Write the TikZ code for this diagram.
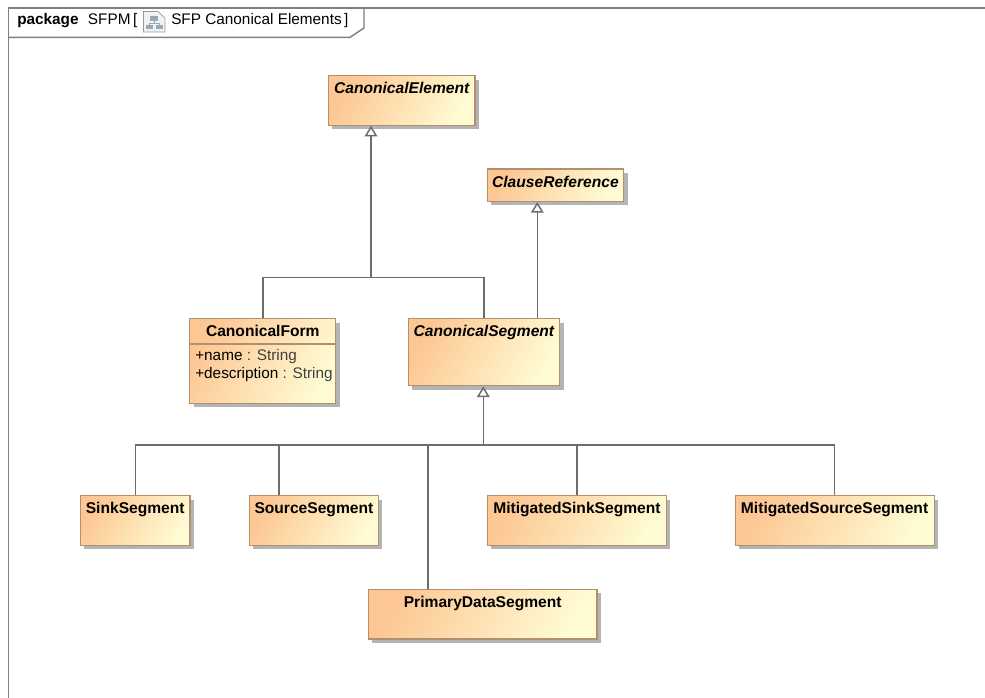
\documentclass[tikz,border=0pt]{standalone}
\usepackage{fontspec}
\setmainfont{Liberation Sans}
\usetikzlibrary{arrows.meta,shadows}

\definecolor{framegray}{HTML}{808080}
\definecolor{linkgray}{HTML}{6C6C6C}
\definecolor{boxedge}{HTML}{B0906E}
\definecolor{boxshadow}{HTML}{B4B4B4}
\definecolor{boxleft}{HTML}{FDC794}
\definecolor{boxright}{HTML}{FFFBD2}
\definecolor{typegray}{HTML}{404040}
\definecolor{iconblue}{HTML}{98A8B8}

\begin{document}
\begin{tikzpicture}[x=.75pt,y=-.75pt,
            main font/.style={font=\fontsize{11.5}{13.2}\selectfont},
            label node/.style={main font,inner sep=0pt,anchor=base west},
            class node/.style 2 args={draw=boxedge,line width=.9pt,anchor=north west,
                left color=boxleft,right color=boxright,shading angle=60,
                drop shadow={shadow xshift=3pt,shadow yshift=-3pt,fill=boxshadow,opacity=1},
                inner xsep=0pt,inner ysep=0pt,align=center,text height=13.5pt,
                font=\fontsize{11.7}{13.2}\selectfont\bfseries,text width=#1,text depth=#2},
            abstract node/.style 2 args={class node={#1}{#2},
                font=\fontsize{11.7}{13.2}\selectfont\bfseries\itshape},
            link/.style={draw=linkgray,line width=1.1pt},
            gen/.style={link,-{Triangle[open,fill=white,length=8pt,width=9.5pt]}}]

        \useasboundingbox (0,0) rectangle (985,698);

        % Define frame
        \draw[framegray,line width=1.1pt] (985,8) -- (8.3,8) -- (8.3,698);
        \draw[framegray,line width=1.1pt] (8.3,37.3) -- (350,37.3) -- (364,28) -- (364,8);
        \node[label node] (kind) at (17,25) {\bfseries package};
        \node[label node] (pkg) at (87.7,25) {SFPM\,[};
        \node[label node] (diagram) at (171,25) {SFP Canonical Elements\,]};

        % Define diagram icon
        \draw[draw=gray!80,fill=gray!10,line width=.5pt]
            (143.5,11.5) -- (158,11.5) -- (165,18) -- (165,32) -- (143.5,32) -- cycle;
        \fill[iconblue] (150,16) rectangle (158,21);
        \fill[iconblue] (146,25) rectangle (153,29.5);
        \fill[iconblue] (156,25) rectangle (163,29.5);
        \draw[iconblue,line width=.5pt] (154,21) -- (154,23) (149.5,25) -- (149.5,23) -- (159.5,23) -- (159.5,25);

        % Define classes
        \node[abstract node={110pt}{23.5pt}] (element) at (327.8,75.2) {CanonicalElement};
        \node[abstract node={102.5pt}{10.75pt}] (clause) at (486.5,168.5) {ClauseReference};
        \node[class node={109.5pt}{50pt}] (form) at (189.2,318.2) {CanonicalForm};
        \node[abstract node={113.75pt}{36.75pt}] (segment) at (407.5,318.2) {CanonicalSegment};
        \node[class node={82.25pt}{23.7pt}] (sink) at (79.8,495.2) {SinkSegment};
        \node[class node={96.75pt}{23.7pt}] (source) at (248.8,495.2) {SourceSegment};
        \node[class node={134.25pt}{23.7pt}] (msink) at (486.8,495.2) {MitigatedSinkSegment};
        \node[class node={149.25pt}{23.7pt}] (msource) at (734.5,495.2) {MitigatedSourceSegment};
        \node[class node={171.5pt}{23.7pt}] (primary) at (367.8,588.8) {PrimaryDataSegment};

        % Attributes of CanonicalForm
        \draw[boxedge,line width=.9pt] (form.west |- 0,344) -- (form.east |- 0,344);
        \node[label node] (attr name) at (195,360.7) {+name {\color{typegray}: String}};
        \node[label node] (attr desc) at (195,378.3) {+description {\color{typegray}: String}};

        % Define bus points
        \coordinate (upper bus) at (371,277.3);
        \coordinate (lower bus) at (483.3,445);
        \coordinate (clause link) at (537.3,260);
        \coordinate (source drop) at (279,445);
        \coordinate (primary drop) at (428,445);

        % Draw edges
        \path[link]
            (form.north) edge (form.north |- upper bus)
            (segment.north) edge (segment.north |- upper bus)
            (form.north |- upper bus) edge (segment.north |- upper bus)
            (sink.north) edge (sink.north |- lower bus)
            (source drop |- source.north) edge (source drop)
            (primary drop |- primary.north) edge (primary drop)
            (msink.north) edge (msink.north |- lower bus)
            (msource.north) edge (msource.north |- lower bus)
            (sink.north |- lower bus) edge (msource.north |- lower bus);
        \draw[gen] (upper bus) -- (upper bus |- element.south);
        \draw[gen] (clause link |- segment.north) -- (clause link |- clause.south);
        \draw[gen] (lower bus) -- (lower bus |- segment.south);

\end{tikzpicture}
\end{document}
